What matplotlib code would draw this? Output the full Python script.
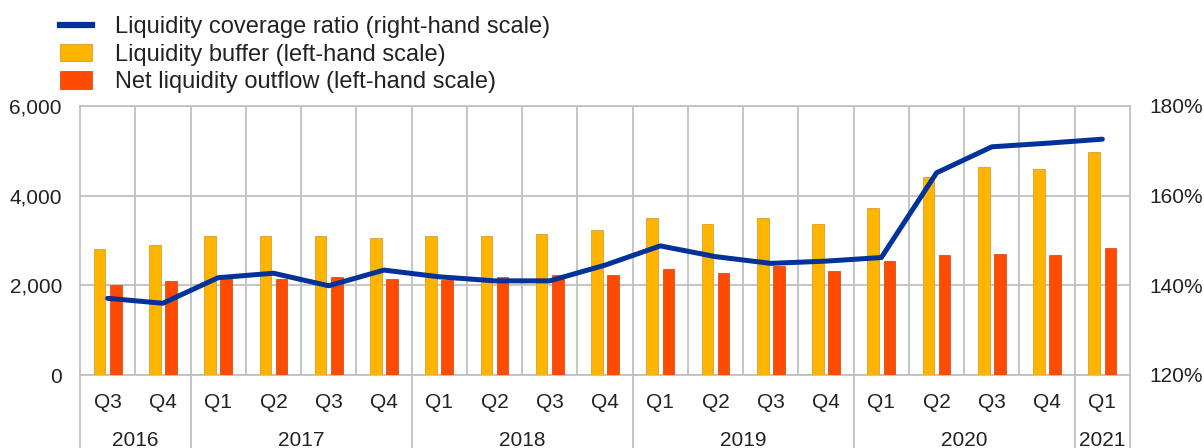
import matplotlib
matplotlib.use("Agg")
import matplotlib.pyplot as plt
from matplotlib.lines import Line2D
from matplotlib.patches import Patch
import matplotlib.transforms as mtransforms

plt.rcParams['font.family'] = ['Liberation Sans', 'DejaVu Sans']

quarters = ["Q3", "Q4", "Q1", "Q2", "Q3", "Q4", "Q1", "Q2", "Q3", "Q4",
            "Q1", "Q2", "Q3", "Q4", "Q1", "Q2", "Q3", "Q4", "Q1"]
years = ["2016", "2017", "2018", "2019", "2020", "2021"]
year_counts = [2, 4, 4, 4, 4, 1]
liquidity_buffer = [2800, 2900, 3100, 3100, 3100, 3050, 3100, 3100, 3150, 3230,
                    3500, 3370, 3500, 3370, 3720, 4410, 4630, 4590, 4980]
net_outflow = [2000, 2100, 2150, 2140, 2180, 2140, 2120, 2180, 2230, 2240,
               2370, 2280, 2430, 2320, 2540, 2670, 2710, 2670, 2840]
lcr = [137.1, 136.0, 141.7, 142.7, 139.9, 143.4, 141.9, 141.0, 141.0, 144.5,
       148.8, 146.4, 144.9, 145.4, 146.2, 165.1, 170.9, 171.7, 172.6]

C_BUF = "#FFB400"
C_OUT = "#FF4B00"
C_LCR = "#003299"
C_GRID = "#C0C0C0"
FS = 15
LFS = 17

W, H = 1204, 448
fig = plt.figure(figsize=(W / 100, H / 100), dpi=100)
ax = fig.add_axes([80 / W, (H - 375) / H, 1050 / W, 269 / H])
ax2 = ax.twinx()

n = len(quarters)
x = list(range(n))
bw = 0.21
off = 0.146
ax.bar([i - off for i in x], liquidity_buffer, width=bw, color=C_BUF,
       edgecolor="#D8A030", linewidth=0.6, zorder=3)
ax.bar([i + off for i in x], net_outflow, width=bw, color=C_OUT,
       edgecolor="#D85020", linewidth=0.6, zorder=3)

ax.set_xlim(-0.5, n - 0.5)
ax.set_ylim(0, 6000)
ax.set_yticks([0, 2000, 4000, 6000])
ax.set_yticklabels(["0", "2,000", "4,000", "6,000"])
ax.yaxis.grid(True, color=C_GRID, linewidth=1.3, zorder=0)
ax.set_axisbelow(True)
for b in range(n - 1):
    ax.axvline(b + 0.5, color=C_GRID, linewidth=1.3, zorder=0)

ax.set_xticks(x)
ax.set_xticklabels(quarters)
ax.tick_params(axis='x', length=0, pad=13, labelsize=FS, colors="#222222")
ax.tick_params(axis='y', length=0, pad=13, labelsize=FS, colors="#222222")

for sp in ax.spines.values():
    sp.set_color(C_GRID)
    sp.set_linewidth(1.3)
for sp in ax2.spines.values():
    sp.set_visible(False)

# year separators and labels
trans = mtransforms.blended_transform_factory(ax.transData, ax.transAxes)
pos = -0.5
bounds = [pos]
for yr, cnt in zip(years, year_counts):
    ax.text(pos + cnt / 2, -0.245, yr, transform=trans, ha='center', va='center',
            fontsize=FS, color="#222222")
    pos += cnt
    bounds.append(pos)
for bnd in bounds:
    ax.plot([bnd, bnd], [0, -0.3], transform=trans, color=C_GRID,
            linewidth=1.3, clip_on=False, zorder=1)

ax2.plot(x, lcr, color=C_LCR, linewidth=3.6, zorder=5, solid_capstyle='round')
ax2.set_ylim(120, 180)
ax2.set_yticks([120, 140, 160, 180])
ax2.set_yticklabels(["120%", "140%", "160%", "180%"])
ax2.tick_params(axis='y', length=0, pad=14, labelsize=FS, colors="#222222")

handles = [Line2D([0], [0], color=C_LCR, linewidth=4.5),
           Patch(facecolor=C_BUF, edgecolor="#D8A030", linewidth=0.6),
           Patch(facecolor=C_OUT, edgecolor="#D85020", linewidth=0.6)]
labels = ["Liquidity coverage ratio (right-hand scale)",
          "Liquidity buffer (left-hand scale)",
          "Net liquidity outflow (left-hand scale)"]
fig.legend(handles, labels, loc='upper left', bbox_to_anchor=(60 / W, 1 - 16 / H),
           frameon=False, fontsize=LFS, handlelength=1.35, handleheight=0.76,
           handletextpad=0.97, labelspacing=0.24, borderpad=0, borderaxespad=0,
           labelcolor="#222222")

fig.savefig("out.png", dpi=100)
